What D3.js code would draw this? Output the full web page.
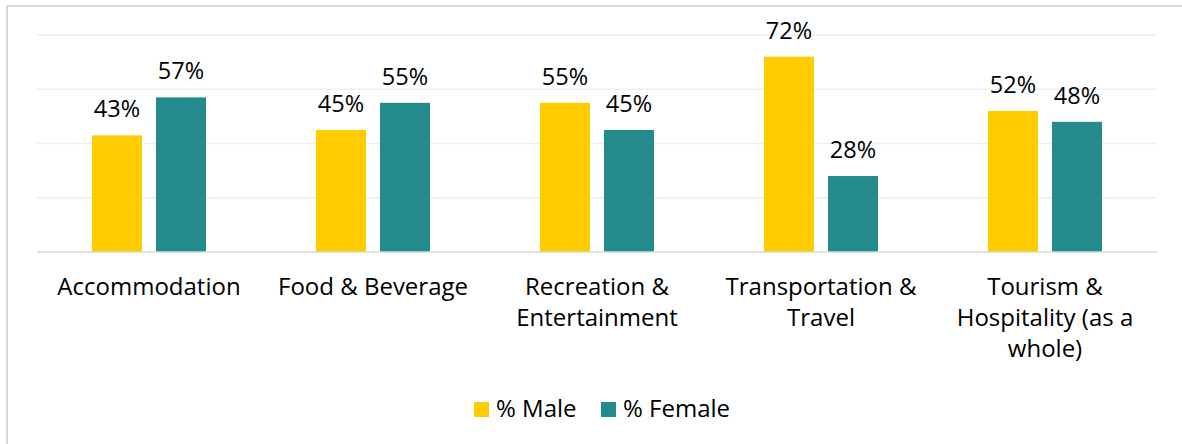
<!DOCTYPE html>
<html>
<head>
<meta charset="utf-8">
<style>
  body { margin: 0; background: #fff; }
  svg text { font-family: "Open Sans", "Noto Sans", sans-serif; fill: #000; }
</style>
</head>
<body>
<div id="chart"></div>
<script src="https://cdn.jsdelivr.net/npm/d3@7"></script>
<script>
// data
const categories = ['Accommodation', 'Food & Beverage', 'Recreation & Entertainment', 'Transportation & Travel', 'Tourism & Hospitality (as a whole)'];
const tickLabels = [
  ['Accommodation'],
  ['Food & Beverage'],
  ['Recreation &', 'Entertainment'],
  ['Transportation &', 'Travel'],
  ['Tourism &', 'Hospitality (as a', 'whole)']
];
const series = ['% Male', '% Female'];
const maleValues = [43, 45, 55, 72, 52];
const femaleValues = [57, 55, 45, 28, 48];
const yTicks = [0, 20, 40, 60, 80];

const colors = {'% Male': '#ffcc00', '% Female': '#238b8b'};

const width = 1182, height = 444;
const plot = {left: 37, right: 1157, top: 35, bottom: 252};

const svg = d3.select('#chart').append('svg')
  .attr('width', width)
  .attr('height', height);

// outer frame
svg.append('rect')
  .attr('x', 7).attr('y', 6)
  .attr('width', width).attr('height', height)
  .attr('fill', 'none')
  .attr('stroke', '#d9d9d9')
  .attr('stroke-width', 2);

const x0 = d3.scaleBand()
  .domain(categories)
  .range([plot.left, plot.right]);

const x1 = d3.scaleBand()
  .domain(series)
  .range([55, 169])
  .paddingInner(0.21875);

const y = d3.scaleLinear()
  .domain([0, 80])
  .range([plot.bottom, plot.top]);

// gridlines
svg.append('g')
  .selectAll('line')
  .data(yTicks.filter(d => d > 0))
  .enter().append('line')
    .attr('x1', plot.left).attr('x2', plot.right)
    .attr('y1', d => y(d)).attr('y2', d => y(d))
    .attr('stroke', '#efefef')
    .attr('stroke-width', 1.5);

const rows = categories.map((c, i) => ({
  cat: c,
  vals: [{s: '% Male', v: maleValues[i]}, {s: '% Female', v: femaleValues[i]}]
}));

const groups = svg.append('g')
  .selectAll('g')
  .data(rows)
  .enter().append('g')
    .attr('transform', d => `translate(${x0(d.cat)},0)`);

groups.selectAll('rect')
  .data(d => d.vals)
  .enter().append('rect')
    .attr('x', d => x1(d.s))
    .attr('width', x1.bandwidth())
    .attr('y', d => y(d.v))
    .attr('height', d => y(0) - y(d.v))
    .attr('fill', d => colors[d.s]);

groups.selectAll('text.val')
  .data(d => d.vals)
  .enter().append('text')
    .attr('class', 'val')
    .attr('x', d => x1(d.s) + x1.bandwidth() / 2)
    .attr('y', d => y(d.v) - 18)
    .attr('text-anchor', 'middle')
    .style('font-size', '23.5px')
    .text(d => d.v + '%');

// baseline
svg.append('line')
  .attr('x1', plot.left).attr('x2', plot.right)
  .attr('y1', y(0)).attr('y2', y(0))
  .attr('stroke', '#d9d9d9')
  .attr('stroke-width', 1.5);

// category labels
const labels = svg.append('g')
  .selectAll('text')
  .data(categories)
  .enter().append('text')
    .attr('x', d => x0(d) + x0.bandwidth() / 2)
    .attr('y', 295)
    .attr('text-anchor', 'middle')
    .style('font-size', '24px');

labels.selectAll('tspan')
  .data((d, i) => tickLabels[i])
  .enter().append('tspan')
    .attr('x', function() { return d3.select(this.parentNode).attr('x'); })
    .attr('dy', (d, i) => i === 0 ? 0 : 31)
    .text(d => d);

// legend
const legend = svg.append('g');
const legendX = [474, 601];
series.forEach((s, i) => {
  legend.append('rect')
    .attr('x', legendX[i]).attr('y', 402)
    .attr('width', 15).attr('height', 15)
    .attr('fill', colors[s]);
  legend.append('text')
    .attr('x', legendX[i] + 22).attr('y', 417)
    .style('font-size', '24px')
    .text(s);
});
</script>
</body>
</html>
